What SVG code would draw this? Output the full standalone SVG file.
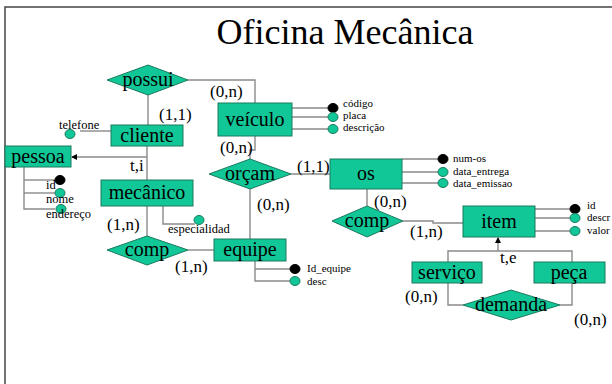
<svg xmlns="http://www.w3.org/2000/svg" width="612" height="384" viewBox="0 0 612 384">
<style>
text{font-family:"Liberation Serif","Times New Roman",serif;fill:#000}
.n{font-size:20px;text-anchor:middle}
.c{font-size:17px}
.a{font-size:11px}
.b{font-size:12.5px}
.shape{fill:#12c797;stroke:#1a7a5e;stroke-width:1}
.ln{fill:none;stroke:#8a8a8a;stroke-width:1.4}
.pk{fill:#000;stroke:#000}
.at{fill:#12c797;stroke:#1a7a5e;stroke-width:1}
</style>
<defs>
<marker id="arr" markerWidth="6" markerHeight="6" refX="5" refY="3" orient="auto" markerUnits="userSpaceOnUse">
<path d="M0,0 L6,3 L0,6 z" fill="#000"/>
</marker>
</defs>
<rect x="0" y="0" width="612" height="384" fill="#fff"/>
<path d="M5,384 L5,7 L612,7" fill="none" stroke="#444" stroke-width="1.5"/>
<text x="345" y="44" style="font-size:36px;text-anchor:middle">Oficina Mecânica</text>

<g id="connectors">
<polyline class="ln" points="188,80 255,80 255,103"/>
<line class="ln" x1="148" y1="95" x2="148" y2="125"/>
<polyline class="ln" points="255,136 255,150 250,150 250,159"/>
<line class="ln" x1="291" y1="174" x2="330" y2="174"/>
<line class="ln" x1="250" y1="189" x2="250" y2="239"/>
<line class="ln" x1="367" y1="189" x2="367" y2="206"/>
<polyline class="ln" points="403,221 433,221 433,223 463,223"/>
<line class="ln" x1="147" y1="146" x2="147" y2="180"/>
<line class="ln" x1="147" y1="157" x2="72" y2="157" marker-end="url(#arr)"/>
<line class="ln" x1="147" y1="206" x2="147" y2="236"/>
<line class="ln" x1="188" y1="250" x2="214" y2="250"/>
<line class="ln" x1="498" y1="251" x2="498" y2="238" marker-end="url(#arr)"/>
<polyline class="ln" points="448,262 448,251 572,251 572,262"/>
<polyline class="ln" points="448,283 448,305 463,305"/>
<polyline class="ln" points="572,283 572,305 560,305"/>
<line class="ln" x1="292" y1="108" x2="328" y2="108"/>
<line class="ln" x1="292" y1="117" x2="328" y2="117"/>
<line class="ln" x1="292" y1="129" x2="328" y2="129"/>
<line class="ln" x1="402" y1="159" x2="438" y2="159"/>
<line class="ln" x1="402" y1="172" x2="438" y2="172"/>
<line class="ln" x1="402" y1="183" x2="438" y2="183"/>
<line class="ln" x1="535" y1="209" x2="570" y2="209"/>
<line class="ln" x1="535" y1="218" x2="570" y2="218"/>
<line class="ln" x1="535" y1="231" x2="570" y2="231"/>
<polyline class="ln" points="24,167 24,209 55,209"/>
<line class="ln" x1="24" y1="180" x2="55" y2="180"/>
<line class="ln" x1="24" y1="193" x2="55" y2="193"/>
<line class="ln" x1="80" y1="131" x2="111" y2="131"/>
<polyline class="ln" points="163,206 163,224 195,224"/>
<polyline class="ln" points="255,261 255,281 290,281"/>
<line class="ln" x1="255" y1="269" x2="290" y2="269"/>
</g>

<g id="possui"><polygon class="shape" points="107,80 148,65 188,80 148,95"/><text class="n" x="148" y="86">possui</text></g>
<g id="veiculo"><rect class="shape" x="218" y="103" width="74" height="33"/><text class="n" x="255" y="126">veículo</text>
<ellipse class="pk" cx="333" cy="108" rx="5" ry="4.5"/><ellipse class="at" cx="333" cy="117" rx="5" ry="4.5"/><ellipse class="at" cx="333" cy="129" rx="5" ry="4.5"/>
<text class="a" x="343" y="107">código</text><text class="a" x="343" y="119">placa</text><text class="a" x="343" y="131">descrição</text></g>
<g id="orcam"><polygon class="shape" points="209,174 250,159 291,174 250,189"/><text class="n" x="250" y="180">orçam</text></g>
<g id="os"><rect class="shape" x="330" y="159" width="72" height="30"/><text class="n" x="366" y="180">os</text>
<ellipse class="pk" cx="443" cy="159" rx="5" ry="4.5"/><ellipse class="at" cx="443" cy="172" rx="5" ry="4.5"/><ellipse class="at" cx="443" cy="183" rx="5" ry="4.5"/>
<text class="a" x="453" y="162">num-os</text><text class="a" x="453" y="175">data_entrega</text><text class="a" x="453" y="187">data_emissao</text></g>
<g id="comp2"><polygon class="shape" points="332,221 367,206 403,221 367,237"/><text class="n" x="367" y="227">comp</text></g>
<g id="item"><rect class="shape" x="463" y="206" width="72" height="31"/><text class="n" x="499" y="228">item</text>
<ellipse class="pk" cx="575" cy="209" rx="5" ry="4.5"/><ellipse class="at" cx="575" cy="218" rx="5" ry="4.5"/><ellipse class="at" cx="575" cy="231" rx="5" ry="4.5"/>
<text class="a" x="587" y="209">id</text><text class="a" x="587" y="221">descr</text><text class="a" x="587" y="234">valor</text></g>
<g id="servico"><rect class="shape" x="412" y="262" width="70" height="21"/><text class="n" x="447" y="279">serviço</text></g>
<g id="peca"><rect class="shape" x="534" y="262" width="71" height="21"/><text class="n" x="569" y="279">peça</text></g>
<g id="demanda"><polygon class="shape" points="463,305 511,290 560,305 511,320"/><text class="n" x="511" y="311">demanda</text></g>
<g id="cliente"><rect class="shape" x="111" y="125" width="72" height="21"/><text class="n" x="147" y="142">cliente</text>
<ellipse class="at" cx="70" cy="134" rx="5" ry="4.5"/><text class="b" x="59" y="129">telefone</text></g>
<g id="pessoa"><rect class="shape" x="5" y="146" width="66" height="21"/><text class="n" x="38" y="163">pessoa</text>
<ellipse class="pk" cx="60" cy="180" rx="5" ry="4.5"/><ellipse class="at" cx="60" cy="193" rx="5" ry="4.5"/><ellipse class="at" cx="61" cy="209" rx="5" ry="4.5"/>
<text class="b" x="46" y="189">id</text><text class="b" x="46" y="203">nome</text><text class="b" x="46" y="218">endereço</text></g>
<g id="mecanico"><rect class="shape" x="101" y="180" width="92" height="26"/><text class="n" x="147" y="199">mecânico</text>
<ellipse class="at" cx="199" cy="220" rx="5" ry="4.5"/><text class="b" x="168" y="233">especialidad</text></g>
<g id="comp1"><polygon class="shape" points="107,250 147,236 188,250 147,265"/><text class="n" x="147" y="256">comp</text></g>
<g id="equipe"><rect class="shape" x="214" y="239" width="72" height="22"/><text class="n" x="250" y="256">equipe</text>
<ellipse class="pk" cx="295" cy="269" rx="5" ry="4.5"/><ellipse class="at" cx="295" cy="281" rx="5" ry="4.5"/>
<text class="a" x="307" y="272">Id_equipe</text><text class="a" x="307" y="285">desc</text></g>

<g id="labels">
<text class="c" x="210" y="97">(0,n)</text>
<text class="c" x="159" y="120">(1,1)</text>
<text class="c" x="220" y="153">(0,n)</text>
<text class="c" x="297" y="172">(1,1)</text>
<text class="c" x="257" y="210">(0,n)</text>
<text class="c" x="374" y="207">(0,n)</text>
<text class="c" x="410" y="237">(1,n)</text>
<text class="c" x="130" y="171">t,i</text>
<text class="c" x="107" y="230">(1,n)</text>
<text class="c" x="175" y="272">(1,n)</text>
<text class="c" x="500" y="263">t,e</text>
<text class="c" x="405" y="302">(0,n)</text>
<text class="c" x="574" y="325">(0,n)</text>
</g>
</svg>
